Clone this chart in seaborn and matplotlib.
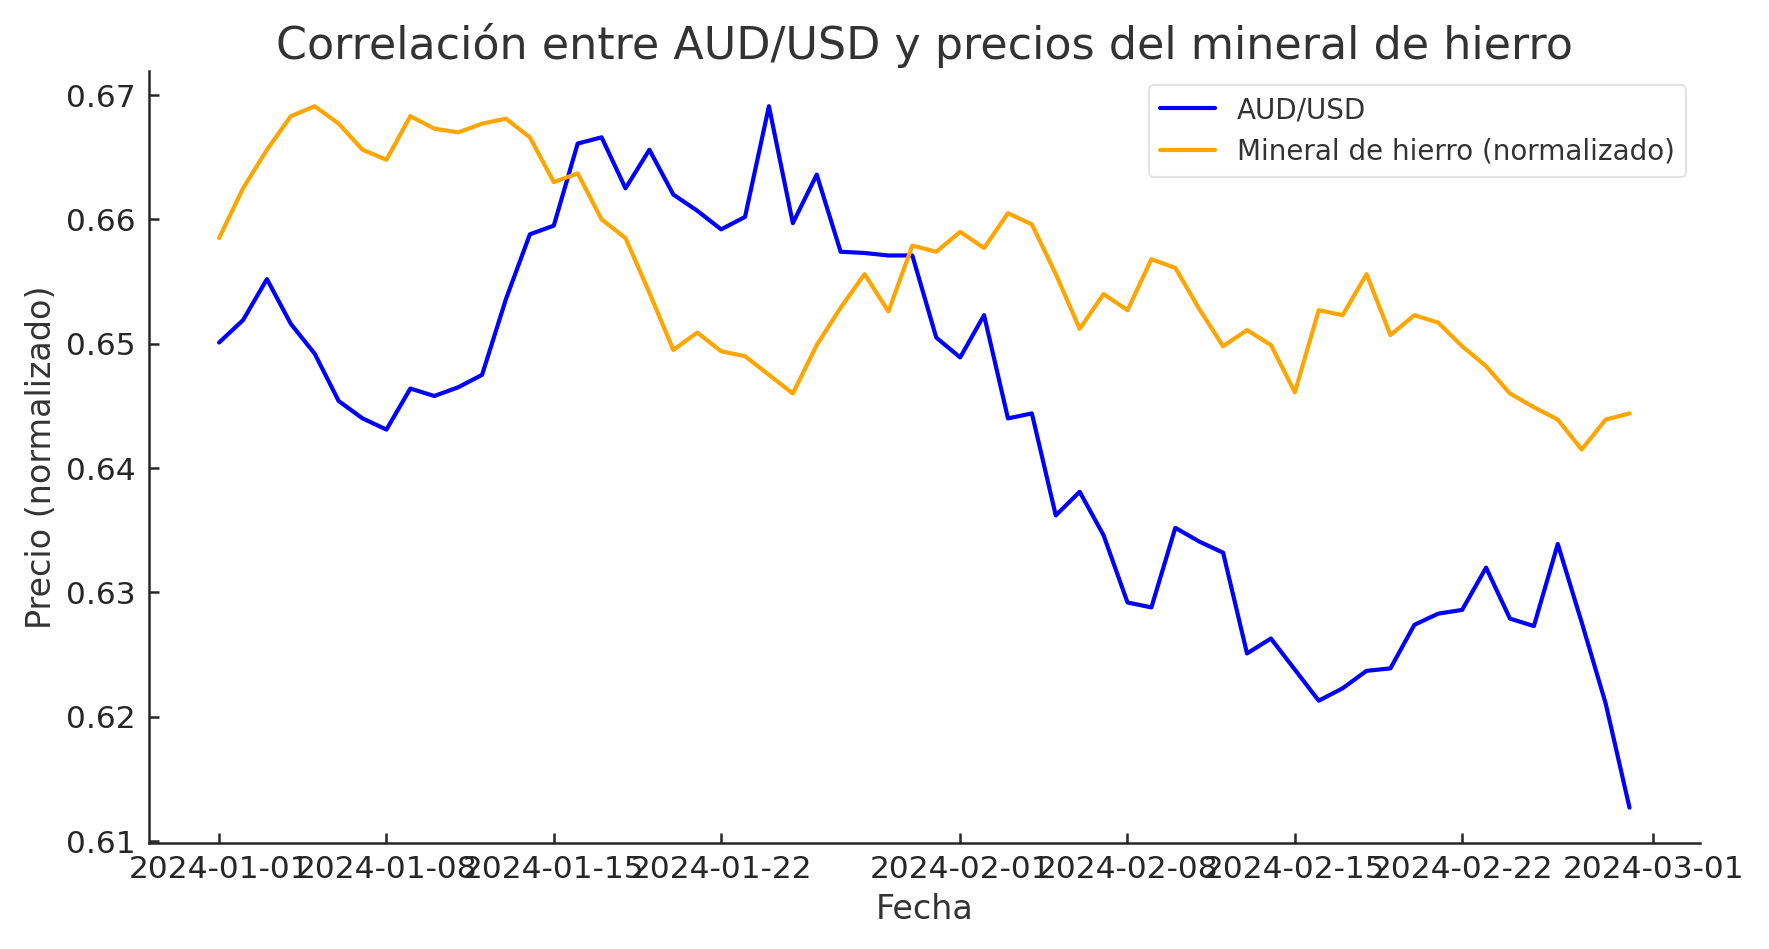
import pandas as pd
import seaborn as sns
import matplotlib.pyplot as plt

# daily values
start_date = "2024-01-01"
n_days = 60

aud_usd = [
    0.6501, 0.6519, 0.6552, 0.6516, 0.6492, 0.6454, 0.6440, 0.6431, 0.6464, 0.6458,
    0.6465, 0.6475, 0.6536, 0.6588, 0.6595, 0.6661, 0.6666, 0.6625, 0.6656, 0.6620,
    0.6607, 0.6592, 0.6602, 0.6691, 0.6597, 0.6636, 0.6574, 0.6573, 0.6571, 0.6571,
    0.6505, 0.6489, 0.6523, 0.6440, 0.6444, 0.6362, 0.6381, 0.6346, 0.6292, 0.6288,
    0.6352, 0.6341, 0.6332, 0.6251, 0.6263, 0.6238, 0.6213, 0.6223, 0.6237, 0.6239,
    0.6274, 0.6283, 0.6286, 0.6320, 0.6279, 0.6273, 0.6339, 0.6276, 0.6211, 0.6127,
]

iron_ore = [
    0.6585, 0.6625, 0.6656, 0.6683, 0.6691, 0.6677, 0.6656, 0.6648, 0.6683, 0.6673,
    0.6670, 0.6677, 0.6681, 0.6666, 0.6630, 0.6637, 0.6600, 0.6585, 0.6541, 0.6495,
    0.6509, 0.6494, 0.6490, 0.6475, 0.6460, 0.6499, 0.6529, 0.6556, 0.6526, 0.6579,
    0.6574, 0.6590, 0.6577, 0.6605, 0.6596, 0.6556, 0.6512, 0.6540, 0.6527, 0.6568,
    0.6561, 0.6528, 0.6498, 0.6511, 0.6499, 0.6461, 0.6527, 0.6523, 0.6556, 0.6507,
    0.6523, 0.6517, 0.6498, 0.6482, 0.6460, 0.6449, 0.6439, 0.6415, 0.6439, 0.6444,
]

series_names = ["AUD/USD", "Mineral de hierro (normalizado)"]
series_colors = ["blue", "orange"]

dates = pd.date_range(start_date, periods=n_days, freq="D")
df = pd.DataFrame({"Fecha": dates, series_names[0]: aud_usd, series_names[1]: iron_ore})
long_df = df.melt(id_vars="Fecha", var_name="serie", value_name="precio")

sns.set_style("ticks")
plt.rcParams["font.family"] = ["DejaVu Sans"]
plt.rcParams["text.color"] = "#333333"
plt.rcParams["axes.labelcolor"] = "#333333"

fig, ax = plt.subplots(figsize=(1769 / 150, 949 / 150), dpi=150)

sns.lineplot(data=long_df, x="Fecha", y="precio", hue="serie",
             palette=dict(zip(series_names, series_colors)), linewidth=2, ax=ax)

ax.set_title("Correlación entre AUD/USD y precios del mineral de hierro", fontsize=21.3)
ax.set_xlabel("Fecha", fontsize=16)
ax.set_ylabel("Precio (normalizado)", fontsize=16)
# ticks point inward in the reference
ax.tick_params(labelsize=15, width=1.2, length=5, direction="in", pad=6)
for s in ["left", "bottom"]:
    ax.spines[s].set_linewidth(1.2)
sns.despine(ax=ax)

leg = ax.legend(loc="upper right", fontsize=13.3, title=None, frameon=True)
leg.get_frame().set_edgecolor("#dddddd")

fig.subplots_adjust(left=0.084, right=0.961, top=0.925, bottom=0.112)
fig.savefig("out.png", dpi=150)
